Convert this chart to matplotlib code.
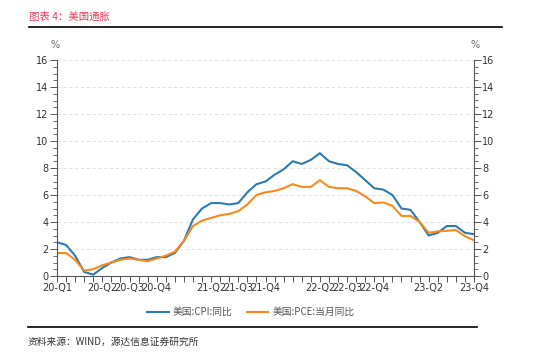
import matplotlib
matplotlib.use('Agg')
import matplotlib.pyplot as plt
from matplotlib.ticker import MultipleLocator, FixedLocator

plt.rcParams['font.family'] = ['Noto Sans CJK SC', 'DejaVu Sans']

# --- Data (monthly, Jan 2020 - Nov 2023) ---
cpi = [2.5, 2.3, 1.5, 0.3, 0.1, 0.6, 1.0, 1.3, 1.4, 1.2, 1.2, 1.4,
       1.4, 1.7, 2.6, 4.2, 5.0, 5.4, 5.4, 5.3, 5.4, 6.2, 6.8, 7.0,
       7.5, 7.9, 8.5, 8.3, 8.6, 9.1, 8.5, 8.3, 8.2, 7.7, 7.1, 6.5,
       6.4, 6.0, 5.0, 4.9, 4.0, 3.0, 3.2, 3.7, 3.7, 3.2, 3.1]
pce = [1.7, 1.7, 1.2, 0.4, 0.5, 0.8, 1.0, 1.2, 1.3, 1.2, 1.1, 1.3,
       1.5, 1.8, 2.6, 3.7, 4.1, 4.3, 4.5, 4.6, 4.8, 5.3, 6.0, 6.2,
       6.3, 6.5, 6.8, 6.6, 6.6, 7.1, 6.6, 6.5, 6.5, 6.3, 5.9, 5.4,
       5.45, 5.2, 4.45, 4.45, 4.0, 3.2, 3.3, 3.35, 3.4, 2.95, 2.65]
tick_pos = [0, 5, 8, 11, 17, 20, 23, 29, 32, 35, 41, 46]
tick_labels = ['20-Q1', '20-Q2', '20-Q3', '20-Q4', '21-Q2', '21-Q3', '21-Q4',
               '22-Q2', '22-Q3', '22-Q4', '23-Q2', '23-Q4']
series_names = ['美国:CPI:同比', '美国:PCE:当月同比']

BLUE = '#2b7bb0'
ORANGE = '#f7891e'
AXC = '#555555'

fig = plt.figure(figsize=(5.5, 3.55), dpi=100)
ax = fig.add_axes([57 / 550, 1 - 276 / 355, 417 / 550, 216 / 355])

x = list(range(len(cpi)))
l1, = ax.plot(x, cpi, color=BLUE, lw=1.5)
l2, = ax.plot(x, pce, color=ORANGE, lw=1.5)

ax.set_xlim(0, len(cpi) - 1)
ax.set_ylim(0, 16)
for y in range(2, 17, 2):
    ax.axhline(y, color='#dddddd', lw=0.6, ls=(0, (4, 3)), zorder=0)

ax.spines['top'].set_visible(False)
for s in ['left', 'right', 'bottom']:
    ax.spines[s].set_color(AXC)
    ax.spines[s].set_linewidth(0.8)

ax.xaxis.set_major_locator(FixedLocator(tick_pos))
ax.set_xticklabels(tick_labels)
ax.xaxis.set_minor_locator(MultipleLocator(1))
ax.tick_params(axis='x', which='both', length=4, color=AXC, width=0.7,
               labelsize=7, labelcolor='#333333', pad=1)
for lab in ax.get_xticklabels():
    lab.set_family('DejaVu Sans')

ax.yaxis.set_major_locator(MultipleLocator(2))
ax.yaxis.set_minor_locator(MultipleLocator(0.5))
ax.tick_params(axis='y', which='major', length=5, color=AXC, width=0.7,
               labelsize=7, labelcolor='#333333', pad=1)
ax.tick_params(axis='y', which='minor', length=3, color=AXC, width=0.6)

ax2 = ax.twinx()
ax2.set_ylim(0, 16)
ax2.yaxis.set_major_locator(MultipleLocator(2))
ax2.yaxis.set_minor_locator(MultipleLocator(0.5))
ax2.tick_params(axis='y', which='major', length=5, color=AXC, width=0.7,
                labelsize=7, labelcolor='#333333', pad=1)
ax2.tick_params(axis='y', which='minor', length=3, color=AXC, width=0.6)
for s in ax2.spines.values():
    s.set_visible(False)
for t in ax.get_yticklabels() + ax2.get_yticklabels():
    t.set_family('DejaVu Sans')

fig.text(55 / 550, 1 - 45 / 355, '%', fontsize=7, color='#666666', ha='center', va='center',
         family='DejaVu Sans')
fig.text(475 / 550, 1 - 45 / 355, '%', fontsize=7, color='#666666', ha='center', va='center',
         family='DejaVu Sans')

# title and rules
fig.text(29 / 550, 1 - 17 / 355, '图表 4：美国通胀', fontsize=7.5, color='#ee3b5b',
         ha='left', va='center')
fig.add_artist(plt.Line2D([29 / 550, 502 / 550], [1 - 27 / 355] * 2, color='black', lw=1.2))
fig.add_artist(plt.Line2D([28 / 550, 477 / 550], [1 - 327 / 355] * 2, color='black', lw=1.2))

fig.legend([l1, l2], series_names, loc='center', bbox_to_anchor=(251 / 550, 1 - 312 / 355),
           ncol=2, frameon=False, fontsize=7, handlelength=2.2, columnspacing=1.5,
           handletextpad=0.4, labelcolor='#555555')

fig.text(28 / 550, 1 - 342 / 355, '资料来源：WIND，源达信息证券研究所', fontsize=7,
         color='#333333', ha='left', va='center')

fig.savefig('out.png', dpi=100)
